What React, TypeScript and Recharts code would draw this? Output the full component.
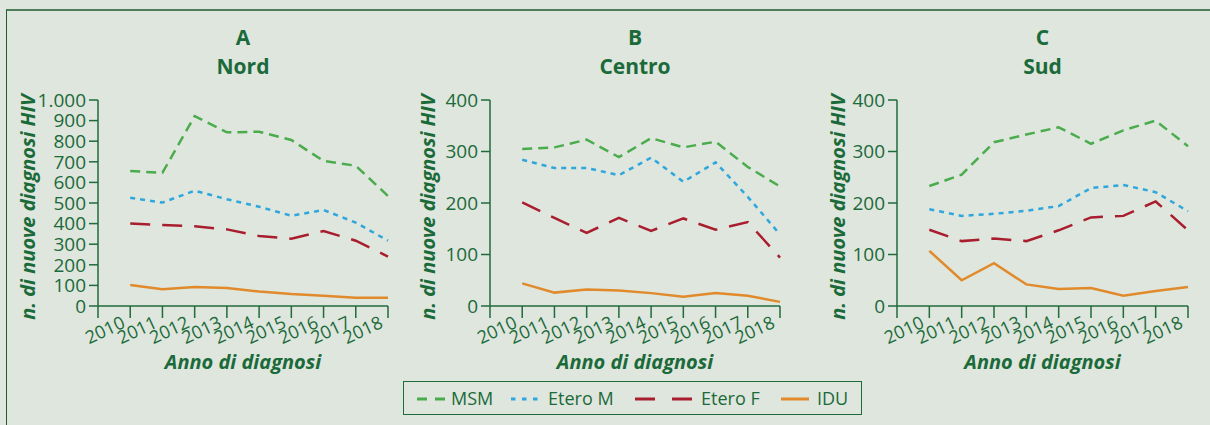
import { Line, LineChart, XAxis, YAxis } from 'recharts'

// anni di diagnosi
const years = [2010, 2011, 2012, 2013, 2014, 2015, 2016, 2017, 2018]
const xTicks = [2009, ...years]

// A - Nord
const nordMsm = [655, 647, 922, 843, 846, 806, 704, 681, 534]
const nordEteroM = [526, 502, 560, 518, 482, 438, 466, 405, 317]
const nordEteroF = [400, 393, 387, 372, 340, 327, 364, 317, 240]
const nordIdu = [102, 81, 92, 87, 70, 58, 50, 40, 40]
const nordTicks = [0, 100, 200, 300, 400, 500, 600, 700, 800, 900, 1000]

// B - Centro
const centroMsm = [305, 308, 323, 289, 326, 308, 319, 270, 232]
const centroEteroM = [284, 268, 268, 254, 288, 241, 279, 212, 139]
const centroEteroF = [201, 171, 142, 171, 146, 170, 148, 163, 94]
const centroIdu = [44, 26, 32, 30, 25, 18, 25, 20, 8]
const centroTicks = [0, 100, 200, 300, 400]

// C - Sud
const sudMsm = [233, 255, 318, 333, 347, 315, 341, 360, 310]
const sudEteroM = [188, 175, 179, 185, 194, 229, 235, 221, 184]
const sudEteroF = [148, 126, 131, 126, 147, 172, 175, 203, 147]
const sudIdu = [107, 50, 83, 42, 33, 35, 20, 29, 37]
const sudTicks = [0, 100, 200, 300, 400]

const TEXT = '#1b6a39'
const AXIS = '#1f6b3b'
const BG = '#dfe6de'
const FONT = "'Open Sans', sans-serif"

const series = [
  { key: 'msm', name: 'MSM', color: '#4aac4c', dash: '10 6', legendDash: '10 8' },
  { key: 'eteroM', name: 'Etero M', color: '#2ea7dc', dash: '5 5', legendDash: '4.5 6.5' },
  { key: 'eteroF', name: 'Etero F', color: '#a91e2e', dash: '20 12', legendDash: '20 17' },
  { key: 'idu', name: 'IDU', color: '#e08a2b', dash: undefined, legendDash: undefined },
]

const build = (msm: number[], eteroM: number[], eteroF: number[], idu: number[]) =>
  years.map((year, i) => ({ year, msm: msm[i], eteroM: eteroM[i], eteroF: eteroF[i], idu: idu[i] }))

const panels = [
  { letter: 'A', title: 'Nord', left: 0, axisWidth: 98, right: 12, max: 1000, ticks: nordTicks, data: build(nordMsm, nordEteroM, nordEteroF, nordIdu) },
  { letter: 'B', title: 'Centro', left: 400, axisWidth: 90, right: 20, max: 400, ticks: centroTicks, data: build(centroMsm, centroEteroM, centroEteroF, centroIdu) },
  { letter: 'C', title: 'Sud', left: 810, axisWidth: 87, right: 22, max: 400, ticks: sudTicks, data: build(sudMsm, sudEteroM, sudEteroF, sudIdu) },
]

const fmtY = (v: number) => String(v).replace(/\B(?=(\d{3})+(?!\d))/g, '.')

const XTick = (props: any) => {
  const { x, y, payload } = props
  if (payload.value === 2009) return <g />
  const ax = x - 4
  const ay = y + 9
  return (
    <text
      x={ax}
      y={ay}
      textAnchor="end"
      transform={`rotate(-25 ${ax} ${ay})`}
      fill={TEXT}
      fontSize={18}
      fontFamily={FONT}
    >
      {payload.value}
    </text>
  )
}

function Panel({ p }: { p: (typeof panels)[number] }) {
  const plotLeft = p.axisWidth
  const plotRight = 400 - p.right
  const cx = (plotLeft + plotRight) / 2
  return (
    <div style={{ position: 'absolute', left: p.left, top: 0, width: 400, height: 380 }}>
      <div
        style={{
          position: 'absolute',
          left: plotLeft - 60,
          width: plotRight - plotLeft + 120,
          top: 23,
          textAlign: 'center',
          color: TEXT,
          fontFamily: FONT,
          fontWeight: 700,
          fontSize: 21,
          lineHeight: '29px',
        }}
      >
        <div>{p.letter}</div>
        <div>{p.title}</div>
      </div>
      <LineChart width={400} height={380} data={p.data} margin={{ top: 100, right: p.right, left: 0, bottom: 14 }}>
        <XAxis
          dataKey="year"
          type="number"
          domain={[2009, 2018]}
          ticks={xTicks}
          interval={0}
          height={60}
          tickSize={12}
          tickMargin={0}
          tick={XTick}
          axisLine={{ stroke: AXIS, strokeWidth: 1.5 }}
          tickLine={{ stroke: AXIS, strokeWidth: 1.5 }}
          label={() => (
            <text
              x={cx}
              y={369}
              textAnchor="middle"
              fill={TEXT}
              fontFamily={FONT}
              fontWeight={700}
              fontStyle="italic"
              fontSize={20}
            >
              Anno di diagnosi
            </text>
          )}
        />
        <YAxis
          type="number"
          domain={[0, p.max]}
          ticks={p.ticks}
          interval={0}
          width={p.axisWidth}
          tickSize={9}
          tickMargin={3}
          tickFormatter={fmtY}
          tick={{ fill: TEXT, fontSize: 19, fontFamily: FONT }}
          axisLine={{ stroke: AXIS, strokeWidth: 1.5 }}
          tickLine={{ stroke: AXIS, strokeWidth: 1.5 }}
          label={() => (
            <text
              x={27}
              y={207}
              transform="rotate(-90 27 207)"
              textAnchor="middle"
              dominantBaseline="central"
              fill={TEXT}
              fontFamily={FONT}
              fontWeight={700}
              fontStyle="italic"
              fontSize={20}
            >
              n. di nuove diagnosi HIV
            </text>
          )}
        />
        {series.map((s) => (
          <Line
            key={s.key}
            dataKey={s.key}
            name={s.name}
            type="linear"
            stroke={s.color}
            strokeWidth={2.5}
            strokeDasharray={s.dash}
            dot={false}
            activeDot={false}
            isAnimationActive={false}
          />
        ))}
      </LineChart>
    </div>
  )
}

function ChartLegend() {
  const items = [
    { s: series[0], x: 417, w: 28, tx: 451 },
    { s: series[1], x: 511, w: 29, tx: 548 },
    { s: series[2], x: 635, w: 57, tx: 701 },
    { s: series[3], x: 781, w: 28, tx: 817 },
  ]
  return (
    <div
      style={{
        position: 'absolute',
        left: 403,
        top: 381,
        width: 457,
        height: 32,
        border: `1.5px solid ${AXIS}`,
      }}
    >
      {items.map(({ s, x, w, tx }) => (
        <div key={s.key}>
          <svg style={{ position: 'absolute', left: x - 404, top: 14 }} width={w} height={6}>
            <line x1={0} y1={3} x2={w} y2={3} stroke={s.color} strokeWidth={3} strokeDasharray={s.legendDash} />
          </svg>
          <span
            style={{
              position: 'absolute',
              left: tx - 404,
              top: 3,
              fontFamily: FONT,
              fontSize: 18,
              lineHeight: '26px',
              color: TEXT,
              whiteSpace: 'nowrap',
            }}
          >
            {s.name}
          </span>
        </div>
      ))}
    </div>
  )
}

export default function App() {
  return (
    <div
      style={{
        position: 'absolute',
        left: 0,
        top: 0,
        width: 1210,
        height: 425,
        background: BG,
        overflow: 'hidden',
      }}
    >
      <div
        style={{
          position: 'absolute',
          left: 6,
          top: 9,
          width: 1220,
          height: 440,
          borderTop: '2px solid #4f7d5a',
          borderLeft: '1.5px solid #1f5a30',
        }}
      />
      {panels.map((p) => (
        <Panel key={p.letter} p={p} />
      ))}
      <ChartLegend />
    </div>
  )
}
